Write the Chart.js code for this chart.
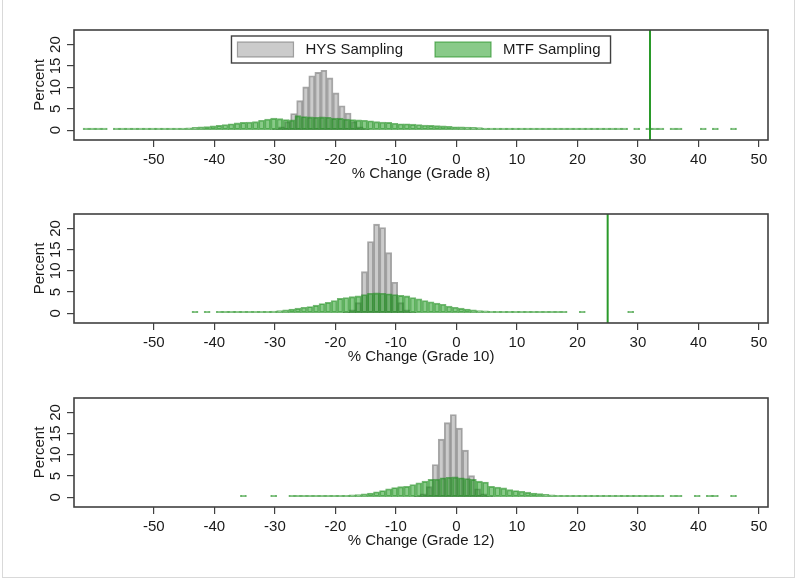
<!DOCTYPE html>
<html>
<head>
<meta charset="utf-8">
<title>% Change by grade</title>
<script src="https://cdn.jsdelivr.net/npm/chart.js"></script>
<style>
  html, body { margin: 0; padding: 0; background: #fff; }
  #wrap { position: relative; width: 800px; height: 582px; overflow: hidden; }
  #frame { position: absolute; left: 2px; top: -3px; width: 791px; height: 579px; border: 1px solid #d9d9d9; }
  canvas { position: absolute; left: 0; }
</style>
</head>
<body>
<div id="wrap">
  <div id="frame"></div>
  <canvas id="grade8Chart" width="800" height="186" style="top:0"></canvas>
  <canvas id="grade10Chart" width="800" height="186" style="top:186px"></canvas>
  <canvas id="grade12Chart" width="800" height="210" style="top:372px"></canvas>
</div>
<script>

// axis ticks shared by the three panels
var xTicks = [-50, -40, -30, -20, -10, 0, 10, 20, 30, 40, 50];
var yTicks = [0, 5, 10, 15, 20];
var binWidth = 1;

// ---- Grade 8 ----  (null = empty bin)
var hys8Start = -30.4;
var hys8 = [0.3, 0.8, 2.0, 3.9, 6.9, 10.1, 12.7, 13.5, 14.0, 12.2, 8.7, 5.7, 4.0, 2.0, 0.8, 0.3];
var mtf8Start = -61.7;
var mtf8 = [0.1, 0.1, 0.1, 0.1, null, 0.1, 0.1, 0.1, 0.1, 0.15,
            0.15, 0.2, 0.25, 0.3, 0.35, 0.4, 0.5, 0.55, 0.65, 0.75,
            0.85, 1.0, 1.1, 1.3, 1.5, 1.7, 1.8, 1.9, 2.0, 2.3,
            2.6, 2.8, 2.7, 2.5, 2.4, 3.4, 3.2, 3.1, 3.0, 3.1,
            3.0, 2.8, 2.8, 2.6, 2.5, 2.4, 2.3, 2.2, 2.0, 1.9,
            1.8, 1.6, 1.5, 1.5, 1.4, 1.3, 1.2, 1.1, 1.05, 1.0,
            0.9, 0.8, 0.75, 0.7, 0.65, 0.6, 0.5, 0.45, 0.4, 0.35,
            0.3, 0.25, 0.2, 0.15, 0.1, 0.1, 0.1, 0.1, 0.1, 0.1,
            0.1, 0.1, 0.1, 0.1, 0.1, 0.1, 0.1, 0.1, 0.1, 0.1,
            null, 0.1, null, 0.1, 0.1, 0.1, null, 0.1, 0.1, null,
            null, null, 0.1, null, 0.1, null, null, 0.1];
var cutoff8 = 32;

// ---- Grade 10 ----
var hys10Start = -18.7;
var hys10 = [0.2, 0.8, 2.5, 9.8, 16.9, 21.0, 20.2, 14.3, 7.3, 2.5, 0.8, 0.2];
var mtf10Start = -43.7;
var mtf10 = [0.1, null, 0.1, null, 0.1, 0.1, 0.1, 0.15, 0.15, 0.2,
             0.25, 0.3, 0.4, 0.5, 0.6, 0.8, 1.0, 1.2, 1.4, 1.6,
             1.9, 2.3, 2.6, 3.0, 3.5, 3.7, 3.9, 4.1, 4.4, 4.7,
             4.8, 4.7, 4.6, 4.4, 4.2, 4.1, 3.7, 3.4, 3.0, 2.7,
             2.4, 2.1, 1.7, 1.4, 1.2, 1.0, 0.8, 0.65, 0.55, 0.45,
             0.4, 0.35, 0.3, 0.25, 0.2, 0.15, 0.1, 0.1, 0.1, 0.1,
             0.1, 0.1, null, null, 0.1, null, null, null, null, null,
             null, null, 0.1];
var cutoff10 = 25;

// ---- Grade 12 ----
var hys12Start = -7;
var hys12 = [0.2, 0.8, 2.5, 7.7, 13.7, 17.6, 19.5, 16.3, 11.1, 5.1, 2.0, 0.8, 0.2];
var mtf12Start = -35.7;
var mtf12 = [0.1, null, null, null, null, 0.1, null, null, 0.1, 0.1,
             0.1, 0.15, 0.15, 0.2, 0.25, 0.3, 0.35, 0.45, 0.55, 0.65,
             0.8, 1.0, 1.3, 1.6, 2.0, 2.3, 2.5, 2.6, 3.0, 3.4,
             3.8, 4.2, 4.3, 4.6, 4.7, 4.8, 4.6, 4.4, 4.2, 3.8,
             3.6, 2.6, 2.4, 2.2, 1.8, 1.6, 1.4, 1.2, 1.0, 0.85,
             0.7, 0.55, 0.45, 0.35, 0.25, 0.2, 0.15, 0.1, 0.1, 0.1,
             0.1, 0.1, 0.1, 0.1, 0.1, 0.1, 0.1, 0.1, 0.1, 0.1,
             null, 0.1, 0.1, null, null, 0.1, null, 0.1, 0.1, null,
             null, 0.1];

var xMin = -63.2, xMax = 51.5;
var yMin = -2.3, yMax = 23.4;

Chart.defaults.font.family = '"Liberation Sans", Arial, sans-serif';
Chart.defaults.font.size = 15;
Chart.defaults.color = '#1a1a1a';

// histogram bins -> {x: bin centre, y: percent}
function toBins(start, vals) {
     return vals.map(function(v, i){ return {x: start + binWidth * (i + 0.5), y: v}; });
}

// box round the plot region
var frameBox = {
     id: 'frameBox',
     afterDraw: function(chart) {
          var a = chart.chartArea, ctx = chart.ctx;
          ctx.save();
          ctx.strokeStyle = '#404040';
          ctx.lineWidth = 1.6;
          ctx.strokeRect(a.left, a.top, a.right - a.left, a.bottom - a.top);
          ctx.restore();
     }
};

// vertical green line at the observed change
var cutoffLine = {
     id: 'cutoffLine',
     afterDatasetsDraw: function(chart, args, opts) {
          if (opts.value === undefined || opts.value === null) return;
          var a = chart.chartArea, ctx = chart.ctx;
          var px = chart.scales.x.getPixelForValue(opts.value);
          ctx.save();
          ctx.strokeStyle = '#2a9a2a';
          ctx.lineWidth = 2;
          ctx.beginPath();
          ctx.moveTo(px, a.top);
          ctx.lineTo(px, a.bottom);
          ctx.stroke();
          ctx.restore();
     }
};

// legend drawn inside the plot with a border (Stata style)
var boxLegend = {
     id: 'boxLegend',
     afterDraw: function(chart) {
          var ctx = chart.ctx, a = chart.chartArea;
          var sets = chart.data.datasets;
          var boxW = 56, boxH = 15, gap = 12, itemGap = 32, padL = 6, padR = 10, h = 27;
          ctx.save();
          ctx.font = '15px "Liberation Sans", Arial, sans-serif';
          var total = padL + padR;
          sets.forEach(function(d, i){
               total += boxW + gap + ctx.measureText(d.label).width + (i ? itemGap : 0);
          });
          var x = (a.left + a.right) / 2 - total / 2;
          var top = a.top + 6;
          ctx.fillStyle = '#fff';
          ctx.fillRect(x, top, total, h);
          ctx.strokeStyle = '#404040';
          ctx.lineWidth = 1.4;
          ctx.strokeRect(x, top, total, h);
          x += padL;
          sets.forEach(function(d, i){
               if (i) x += itemGap;
               ctx.fillStyle = d.backgroundColor;
               ctx.fillRect(x, top + 6, boxW, boxH);
               ctx.strokeStyle = d.borderColor;
               ctx.lineWidth = 1.2;
               ctx.strokeRect(x, top + 6, boxW, boxH);
               ctx.fillStyle = '#1a1a1a';
               ctx.textBaseline = 'middle';
               ctx.textAlign = 'left';
               ctx.fillText(d.label, x + boxW + gap, top + h / 2 + 0.5);
               x += boxW + gap + ctx.measureText(d.label).width;
          });
          ctx.restore();
     }
};

function histChart(idName, hysStart, hys, mtfStart, mtf, grade, cutoff, pad, withLegend) {

     var ctx = document.getElementById(idName).getContext('2d');
     var plugins = [frameBox, cutoffLine];
     if (withLegend) plugins.push(boxLegend);

     new Chart(ctx, {
          type: 'bar',
          data: {
               datasets: [
                    {
                         label: 'HYS Sampling',
                         data: toBins(hysStart, hys),
                         xAxisID: 'xh',
                         backgroundColor: 'rgba(140,140,140,0.45)',
                         borderColor: 'rgba(110,110,110,0.6)',
                         borderWidth: 1.2,
                         borderSkipped: false,
                         grouped: false,
                         barPercentage: 1,
                         categoryPercentage: 1,
                         order: 1
                    },
                    {
                         label: 'MTF Sampling',
                         data: toBins(mtfStart, mtf),
                         xAxisID: 'x',
                         backgroundColor: 'rgba(20,150,20,0.5)',
                         borderColor: 'rgba(30,140,30,0.62)',
                         borderWidth: 1.2,
                         borderSkipped: false,
                         minBarLength: 2,
                         grouped: false,
                         barPercentage: 1,
                         categoryPercentage: 1,
                         order: 0
                    }
               ]
          },
          plugins: plugins,
          options: {
               responsive: false,
               animation: false,
               events: [],
               layout: { padding: pad },
               plugins: {
                    legend: { display: false },
                    tooltip: { enabled: false },
                    cutoffLine: { value: cutoff }
               },
               scales: {
                    x: {
                         type: 'linear',
                         min: xMin,
                         max: xMax,
                         offset: false,
                         afterBuildTicks: function(s){ s.ticks = xTicks.map(function(v){ return {value: v}; }); },
                         afterFit: function(s){ s.height = 43; },
                         border: { display: false },
                         grid: { offset: false, drawOnChartArea: false, tickLength: 7, color: '#404040', lineWidth: 1.2 },
                         ticks: { padding: 4, maxRotation: 0, autoSkip: false, color: '#1a1a1a' },
                         title: { display: true, text: '% Change (Grade ' + grade + ')', padding: { top: 0, bottom: 0 }, color: '#1a1a1a' }
                    },
                    xh: {
                         type: 'linear',
                         min: xMin,
                         max: xMax,
                         offset: false,
                         display: false
                    },
                    y: {
                         min: yMin,
                         max: yMax,
                         afterBuildTicks: function(s){ s.ticks = yTicks.map(function(v){ return {value: v}; }); },
                         afterFit: function(s){ s.width = 44; },
                         border: { display: false },
                         grid: { drawOnChartArea: false, tickLength: 7, color: '#404040', lineWidth: 1.2 },
                         ticks: { padding: 3, minRotation: 90, maxRotation: 90, crossAlign: 'center', color: '#1a1a1a' },
                         title: { display: true, text: 'Percent', padding: { top: 1, bottom: 0 }, color: '#1a1a1a' }
                    }
               }
          }
     });
}

histChart('grade8Chart', hys8Start, hys8, mtf8Start, mtf8, 8, cutoff8, {left: 30, right: 32, top: 30, bottom: 3}, true);
histChart('grade10Chart', hys10Start, hys10, mtf10Start, mtf10, 10, cutoff10, {left: 30, right: 32, top: 28, bottom: 6}, false);
histChart('grade12Chart', hys12Start, hys12, mtf12Start, mtf12, 12, null, {left: 30, right: 32, top: 26, bottom: 32}, false);

</script>
</body>
</html>
